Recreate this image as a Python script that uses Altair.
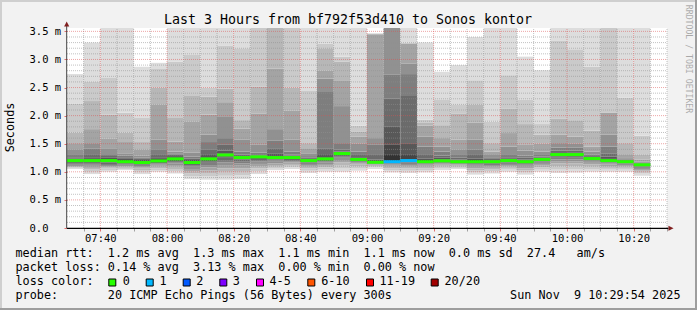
import altair as alt
import pandas as pd

# ---------------- data ----------------
slot_times = ["07:30", "07:35", "07:40", "07:45", "07:50", "07:55", "08:00", "08:05",
              "08:10", "08:15", "08:20", "08:25", "08:30", "08:35", "08:40", "08:45",
              "08:50", "08:55", "09:00", "09:05", "09:10", "09:15", "09:20", "09:25",
              "09:30", "09:35", "09:40", "09:45", "09:50", "09:55", "10:00", "10:05",
              "10:10", "10:15", "10:20"]

median_ms = [1.20, 1.20, 1.20, 1.18, 1.165, 1.195, 1.23, 1.165, 1.23, 1.30, 1.254, 1.266,
             1.254, 1.254, 1.20, 1.23, 1.325, 1.22, 1.17, 1.18, 1.20, 1.18, 1.195, 1.18,
             1.18, 1.18, 1.20, 1.18, 1.22, 1.307, 1.307, 1.236, 1.20, 1.18, 1.125]

lost_pings = [0, 0, 0, 0, 0, 0, 0, 0, 0, 0, 0, 0, 0, 0, 0, 0, 0, 0, 0, 1, 1, 0, 0, 0,
              0, 0, 0, 0, 0, 0, 0, 0, 0, 0, 0]

# 20 sorted ping RTTs (ms) per 5-minute slot
ping_rtts_ms = [
    [1.05, 1.07, 1.08, 1.09, 1.10, 1.12, 1.13, 1.15, 1.17, 1.19, 1.21, 1.22, 1.24, 1.26, 1.30, 1.39, 1.51, 1.70, 2.21, 2.74],
    [0.96, 1.00, 1.04, 1.07, 1.09, 1.11, 1.13, 1.15, 1.17, 1.19, 1.21, 1.23, 1.26, 1.30, 1.41, 1.51, 1.76, 2.26, 2.60, 3.30],
    [1.00, 1.03, 1.06, 1.08, 1.10, 1.12, 1.14, 1.16, 1.17, 1.19, 1.21, 1.23, 1.26, 1.28, 1.30, 1.42, 1.59, 2.02, 2.67, 3.90],
    [1.03, 1.05, 1.07, 1.09, 1.10, 1.12, 1.13, 1.15, 1.16, 1.17, 1.19, 1.21, 1.23, 1.26, 1.29, 1.33, 1.53, 1.70, 2.05, 3.90],
    [0.96, 1.00, 1.03, 1.06, 1.08, 1.10, 1.12, 1.13, 1.15, 1.16, 1.17, 1.19, 1.21, 1.23, 1.25, 1.29, 1.39, 1.53, 1.96, 2.87],
    [1.00, 1.03, 1.06, 1.09, 1.11, 1.13, 1.15, 1.16, 1.18, 1.19, 1.21, 1.23, 1.26, 1.30, 1.39, 1.57, 2.20, 2.50, 2.83, 2.94],
    [0.97, 1.01, 1.05, 1.09, 1.12, 1.15, 1.17, 1.19, 1.21, 1.22, 1.24, 1.26, 1.28, 1.31, 1.33, 1.36, 1.54, 1.96, 2.96, 3.90],
    [0.87, 0.92, 0.97, 1.01, 1.05, 1.09, 1.12, 1.14, 1.15, 1.16, 1.17, 1.19, 1.21, 1.24, 1.27, 1.34, 1.89, 2.35, 3.09, 3.90],
    [0.86, 0.92, 0.98, 1.03, 1.08, 1.12, 1.16, 1.19, 1.21, 1.22, 1.24, 1.26, 1.30, 1.39, 1.53, 1.66, 2.02, 2.34, 2.50, 3.90],
    [0.86, 0.93, 1.00, 1.06, 1.12, 1.17, 1.21, 1.25, 1.27, 1.29, 1.31, 1.33, 1.38, 1.48, 1.60, 1.99, 2.24, 2.48, 3.25, 3.90],
    [0.87, 0.94, 1.00, 1.06, 1.11, 1.15, 1.19, 1.22, 1.24, 1.25, 1.26, 1.27, 1.28, 1.31, 1.36, 1.57, 1.77, 1.92, 3.20, 3.90],
    [0.96, 1.01, 1.06, 1.10, 1.14, 1.18, 1.21, 1.23, 1.25, 1.26, 1.27, 1.28, 1.29, 1.30, 1.34, 1.48, 2.04, 2.52, 3.80, 4.00],
    [1.03, 1.06, 1.09, 1.12, 1.15, 1.18, 1.20, 1.22, 1.24, 1.25, 1.26, 1.28, 1.32, 1.42, 1.56, 1.76, 2.84, 3.80, 4.00, 4.20],
    [1.05, 1.08, 1.11, 1.14, 1.17, 1.19, 1.21, 1.23, 1.24, 1.25, 1.26, 1.27, 1.29, 1.31, 1.36, 1.57, 2.09, 2.50, 3.80, 4.00],
    [0.98, 1.02, 1.06, 1.09, 1.12, 1.14, 1.16, 1.17, 1.18, 1.19, 1.21, 1.22, 1.23, 1.25, 1.28, 1.33, 1.42, 1.51, 2.44, 3.90],
    [1.00, 1.04, 1.08, 1.11, 1.14, 1.17, 1.19, 1.21, 1.22, 1.23, 1.24, 1.26, 1.30, 1.42, 2.42, 2.66, 2.80, 3.20, 3.28, 3.90],
    [1.00, 1.06, 1.12, 1.17, 1.21, 1.25, 1.28, 1.30, 1.31, 1.32, 1.33, 1.34, 1.36, 1.40, 1.51, 2.17, 2.63, 2.96, 3.05, 3.90],
    [1.02, 1.06, 1.10, 1.13, 1.15, 1.17, 1.19, 1.20, 1.21, 1.215, 1.23, 1.24, 1.26, 1.30, 1.36, 1.50, 1.63, 1.72, 1.82, 3.90],
    [1.05, 1.08, 1.10, 1.12, 1.13, 1.14, 1.15, 1.16, 1.165, 1.17, 1.18, 1.19, 1.22, 1.30, 1.48, 1.60, 3.45, 3.455, 3.46, 3.47],
    [0.99, 1.03, 1.06, 1.09, 1.11, 1.13, 1.15, 1.16, 1.17, 1.175, 1.30, 1.48, 1.80, 2.30, 2.73, 3.70, 3.80, 3.90, 4.00, 4.10],
    [0.98, 1.02, 1.06, 1.09, 1.12, 1.14, 1.16, 1.17, 1.18, 1.19, 1.22, 1.30, 1.51, 2.35, 2.74, 2.93, 3.28, 3.29, 3.30, 3.90],
    [0.99, 1.03, 1.06, 1.09, 1.11, 1.13, 1.15, 1.16, 1.17, 1.175, 1.19, 1.21, 1.24, 1.30, 1.45, 1.63, 1.82, 1.87, 1.93, 3.30],
    [1.03, 1.06, 1.09, 1.11, 1.13, 1.15, 1.16, 1.17, 1.18, 1.19, 1.20, 1.22, 1.25, 1.29, 1.36, 1.45, 1.60, 1.83, 2.29, 2.78],
    [1.05, 1.07, 1.09, 1.11, 1.13, 1.14, 1.15, 1.16, 1.17, 1.175, 1.19, 1.20, 1.22, 1.25, 1.30, 1.40, 1.57, 2.04, 2.20, 2.90],
    [0.95, 0.99, 1.03, 1.06, 1.09, 1.11, 1.13, 1.15, 1.16, 1.17, 1.19, 1.21, 1.24, 1.30, 1.40, 1.57, 1.88, 2.20, 2.63, 3.40],
    [0.97, 1.01, 1.04, 1.07, 1.10, 1.12, 1.14, 1.15, 1.16, 1.17, 1.19, 1.20, 1.21, 1.23, 1.26, 1.30, 1.36, 1.51, 1.89, 3.90],
    [1.00, 1.04, 1.07, 1.10, 1.12, 1.14, 1.16, 1.17, 1.18, 1.19, 1.21, 1.22, 1.23, 1.26, 1.30, 1.45, 1.69, 2.12, 2.72, 3.90],
    [0.95, 0.99, 1.03, 1.06, 1.09, 1.11, 1.13, 1.15, 1.16, 1.17, 1.19, 1.20, 1.22, 1.25, 1.29, 1.38, 1.49, 1.85, 2.28, 3.05],
    [1.00, 1.04, 1.08, 1.11, 1.14, 1.16, 1.18, 1.19, 1.20, 1.21, 1.23, 1.24, 1.25, 1.27, 1.30, 1.36, 1.50, 1.66, 1.85, 2.81],
    [0.98, 1.04, 1.10, 1.15, 1.19, 1.22, 1.25, 1.27, 1.29, 1.30, 1.32, 1.33, 1.35, 1.38, 1.43, 1.51, 1.66, 1.95, 3.33, 3.90],
    [0.99, 1.05, 1.10, 1.15, 1.19, 1.22, 1.25, 1.27, 1.29, 1.30, 1.32, 1.33, 1.35, 1.38, 1.43, 1.50, 1.63, 1.92, 3.18, 3.90],
    [1.00, 1.05, 1.09, 1.13, 1.16, 1.18, 1.20, 1.215, 1.225, 1.23, 1.24, 1.25, 1.26, 1.28, 1.31, 1.36, 1.45, 1.73, 2.87, 3.90],
    [1.00, 1.04, 1.07, 1.10, 1.13, 1.15, 1.17, 1.18, 1.19, 1.195, 1.21, 1.23, 1.27, 1.32, 1.45, 1.66, 2.05, 2.06, 3.70, 3.90],
    [1.00, 1.04, 1.07, 1.10, 1.12, 1.14, 1.15, 1.16, 1.17, 1.175, 1.19, 1.20, 1.21, 1.22, 1.24, 1.26, 1.30, 1.51, 2.32, 3.90],
    [0.93, 0.97, 1.00, 1.03, 1.05, 1.07, 1.09, 1.10, 1.11, 1.12, 1.13, 1.135, 1.14, 1.15, 1.16, 1.18, 1.22, 1.31, 1.64, 3.90],
]

loss_labels = ["0", "1", "2", "3", "4-5", "6-10", "11-19", "20/20"]
loss_colors = ["#26ff00", "#00b8ff", "#0059ff", "#7e00ff", "#ff00ff", "#ff5500", "#ff0000", "#a10000"]

title_text = "Last 3 Hours from bf792f53d410 to Sonos kontor"
legend_line1 = "median rtt:  1.2 ms avg  1.3 ms max  1.1 ms min  1.1 ms now  0.0 ms sd  27.4   am/s"
legend_line2 = "packet loss: 0.14 % avg  3.13 % max  0.00 % min  0.00 % now"
legend_line3 = "loss color:"
legend_line4 = "probe:       20 ICMP Echo Pings (56 Bytes) every 300s"
date_text = "Sun Nov  9 10:29:54 2025"
watermark = "RRDTOOL / TOBI OETIKER"

# ---------------- build tables ----------------
SLOT = 5
Y_MAX = 3.56
MONO = "DejaVu Sans Mono"


def minutes(t):
    h, m = t.split(":")
    return int(h) * 60 + int(m) - 7 * 60 - 30


smoke_rows = []
for t, p in zip(slot_times, ping_rtts_ms):
    start = minutes(t)
    for k in range(1, 20):
        band = k if k <= 10 else 20 - k
        shade = 50 + 19 * (10 - band)
        smoke_rows.append({"x0": start, "x1": start + SLOT, "lo": p[k - 1], "hi": p[k],
                           "shade": "#%02x%02x%02x" % (shade, shade, shade)})
smoke = pd.DataFrame(smoke_rows)

med = pd.DataFrame({
    "x0": [minutes(t) for t in slot_times],
    "x1": [minutes(t) + SLOT for t in slot_times],
    "median": median_ms,
    "lc": [loss_colors[n] for n in lost_pings],
})

minor_v = pd.DataFrame({"x0": [m for m in range(5, 181, 5) if (m - 10) % 20 != 0]})
major_v = pd.DataFrame({"x0": list(range(10, 180, 20))})
minor_h = pd.DataFrame({"lo": [i / 10 for i in range(1, 36) if i % 5 != 0]})
major_h = pd.DataFrame({"lo": [i / 2 for i in range(1, 8)]})

xscale = alt.Scale(domain=[0, 180], nice=False, zero=False)
yscale = alt.Scale(domain=[0, Y_MAX], nice=False, zero=True)

x_axis = alt.Axis(
    values=list(range(5, 181, 5)),
    labelExpr="(datum.value - 10) % 20 == 0 ? timeFormat(datetime(2025, 10, 9, 7, 30 + datum.value), '%H:%M') : ''",
    title=None, domain=False, grid=False, tickSize=3, labelPadding=7,
    labelBaseline="middle", labelFont=MONO, labelFontSize=10.5, labelColor="#000000",
    labelOverlap=False, labelFlush=False,
    tickColor={"condition": {"test": "(datum.value - 10) % 20 == 0", "value": "#e07070"}, "value": "#a0a0a0"},
)
y_axis = alt.Axis(
    values=[i / 2 for i in range(0, 8)],
    labelExpr="datum.value == 0 ? '0.0' : format(datum.value, '.1f') + ' m'",
    title="Seconds", titleFont=MONO, titleFontSize=11.8, titleFontWeight="normal",
    titleColor="#000000", titleX=-57.5, titleY=99, titleAngle=-90, titleAlign="center",
    titleBaseline="middle",
    domain=False, grid=False, tickSize=3, tickColor="#e07070", labelPadding=35,
    labelAlign="left", labelBaseline="middle", labelFont=MONO, labelFontSize=10.5,
    labelColor="#000000", labelFlush=False, labelOverlap=False,
)

smoke_layer = alt.Chart(smoke).mark_rect(clip=True, strokeWidth=0).encode(
    x=alt.X("x0:Q", scale=xscale, axis=x_axis),
    x2="x1:Q",
    y=alt.Y("lo:Q", scale=yscale, axis=y_axis),
    y2="hi:Q",
    color=alt.Color("shade:N", scale=None),
)

XN = lambda f: alt.X(f, scale=xscale, axis=None)
YN = lambda f: alt.Y(f, scale=yscale, axis=None)

MINOR = dict(color="#8f8f8f", opacity=0.55, strokeWidth=1, strokeDash=[1, 1])
MAJOR = dict(color="#de4f4f", opacity=0.5, strokeWidth=1, strokeDash=[1, 1])

grid_minor_v = alt.Chart(minor_v).mark_rule(**MINOR).encode(
    x=XN("x0:Q"), y=alt.Y(datum=0, axis=None), y2=alt.Y2(datum=Y_MAX))
grid_minor_h = alt.Chart(minor_h).mark_rule(**MINOR).encode(
    y=YN("lo:Q"), x=alt.X(datum=0, axis=None), x2=alt.X2(datum=180))
grid_major_v = alt.Chart(major_v).mark_rule(**MAJOR).encode(
    x=XN("x0:Q"), y=alt.Y(datum=0, axis=None), y2=alt.Y2(datum=Y_MAX))
grid_major_h = alt.Chart(major_h).mark_rule(**MAJOR).encode(
    y=YN("lo:Q"), x=alt.X(datum=0, axis=None), x2=alt.X2(datum=180))

median_layer = alt.Chart(med).mark_rule(strokeWidth=3, strokeCap="butt").encode(
    x=XN("x0:Q"), x2="x1:Q", y=YN("median:Q"),
    color=alt.Color("lc:N", scale=None),
)

one = pd.DataFrame({"k": [0]})


def deco_rule(x, y, x2=None, y2=None, color="#000", width=1.0):
    enc = {"x": alt.value(x), "y": alt.value(y)}
    if x2 is not None:
        enc["x2"] = alt.value(x2)
    if y2 is not None:
        enc["y2"] = alt.value(y2)
    return alt.Chart(one).mark_rule(color=color, strokeWidth=width).encode(**enc)


def deco_text(x, y, text, size, align="left", baseline="alphabetic", color="#000000",
              angle=0, opacity=1.0):
    kw = dict(align=align, baseline=baseline, font=MONO, fontSize=size, color=color,
              opacity=opacity, text=text.replace(" ", "\u00a0"))
    if angle:
        kw["angle"] = angle
    return alt.Chart(one).mark_text(**kw).encode(x=alt.value(x), y=alt.value(y))


# axis lines and arrows
axis_layers = [
    deco_rule(0, 200.3, x2=601.5, color="#000000", width=1.2),
    deco_rule(-0.3, 200.3, y2=-2, color="#444444", width=1.0),
    alt.Chart(one).mark_point(shape="M-1,1L0,-1L1,1Z", filled=True, size=26, color="#801f1f",
                              opacity=1).encode(x=alt.value(-0.3), y=alt.value(-4)),
    alt.Chart(one).mark_point(shape="M-1,-1L1,0L-1,1Z", filled=True, size=26, color="#801f1f",
                              opacity=1).encode(x=alt.value(604), y=alt.value(200.3)),
]

# frame bevel (rrdtool style)
frame_layers = [
    deco_rule(-66, -28, y2=282, color="#cfcfcf", width=2),
    deco_rule(-67, -27, x2=630, color="#cfcfcf", width=2),
    deco_rule(629, -28, y2=282, color="#9e9e9e", width=2),
    deco_rule(-67, 281, x2=630, color="#9e9e9e", width=2),
]

text_layers = [
    deco_text(281, -4.2, title_text, 13.3, align="center"),
    deco_text(-51.5, 229.3, legend_line1, 11.8),
    deco_text(-51.5, 243.3, legend_line2, 11.8),
    deco_text(-51.5, 257.3, legend_line3, 11.8),
    deco_text(-51.5, 271.3, legend_line4, 11.8),
    deco_text(613.5, 271.3, date_text, 11.8, align="right"),
    deco_text(621, 31, watermark, 8.2, align="center", baseline="middle", angle=90,
              opacity=0.3),
]

square_x = [45.3, 82.7, 119.7, 156.3, 193.0, 244.3, 303.0, 367.7]
label_x = [55.8, 92.5, 129.2, 165.8, 202.5, 254.2, 312.5, 377.5]
legend_layers = []
for sx, lx, col, lab in zip(square_x, label_x, loss_colors, loss_labels):
    legend_layers.append(
        alt.Chart(one).mark_square(size=49, filled=True, color=col, stroke="#000000",
                                   strokeWidth=1, opacity=1).encode(
            x=alt.value(sx), y=alt.value(254.5)))
    legend_layers.append(deco_text(lx, 257.3, lab, 11.8))

chart = alt.layer(
    smoke_layer, grid_minor_v, grid_minor_h, grid_major_v, grid_major_h, median_layer,
    *axis_layers, *frame_layers, *text_layers, *legend_layers,
).resolve_axis(
    x="independent", y="independent",
).properties(
    width=600, height=200,
    padding={"left": 67, "top": 28, "right": 30, "bottom": 82},
    autosize=alt.AutoSizeParams(type="none"),
    background="#f2f2f2",
).configure_view(
    fill="#ffffff", stroke=None,
)

chart.save("out.html", embed_options={"renderer": "svg", "actions": False})
